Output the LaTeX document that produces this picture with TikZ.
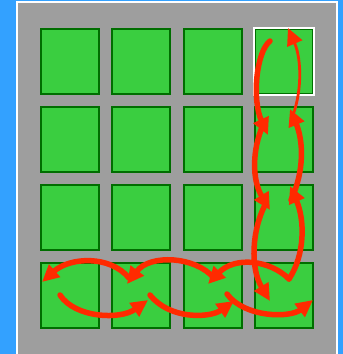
\documentclass[tikz,border=0pt]{standalone}
\usetikzlibrary{arrows.meta}
\definecolor{skyblue}{RGB}{51,161,255}
\definecolor{boardgray}{RGB}{158,158,158}
\definecolor{cellgreen}{RGB}{58,206,64}
\definecolor{celledge}{RGB}{0,110,0}
\definecolor{flowred}{RGB}{255,42,0}
\tikzset{
  cell/.style={draw=celledge, fill=cellgreen, line width=2pt, inner sep=0pt,
    minimum width=58pt, minimum height=65pt},
  flow/.style={draw=flowred, line width=5.5pt, line cap=round,
    -{Triangle[length=17pt,width=16pt]}},
  thinflow/.style={flow, line width=2.8pt}
}
\begin{document}
\begin{tikzpicture}[x=1pt,y=-1pt]
  \useasboundingbox (0,0) rectangle (343,354);
  \fill[skyblue] (0,0) rectangle (343,354);
  \draw[white, line width=2pt, fill=boardgray] (17,2) rectangle (337,360);
  \foreach \col/\x in {1/70,2/141,3/213,4/284}
    \foreach \row/\y in {1/61,2/139,3/217,4/295}
      \node[cell] (c\row\col) at (\x,\y) {};
  \draw[white, line width=2pt] (c14.north west) rectangle (c14.south east);
  % way points
  \coordinate (a0) at (270,41);  \coordinate (a1) at (268,135);
  \coordinate (a2) at (263,125); \coordinate (a3) at (270,210);
  \coordinate (a4) at (265,205); \coordinate (a5) at (270,301);
  \coordinate (b0) at (289,279); \coordinate (b1) at (290,186);
  \coordinate (b2) at (291,200); \coordinate (b3) at (290,109);
  \coordinate (b4) at (291,120); \coordinate (b5) at (288,28);
  \coordinate (l1) at (208,284); \coordinate (l2) at (214,278);
  \coordinate (l3) at (127,284); \coordinate (l4) at (129,278);
  \coordinate (l5) at (42,282);
  \coordinate (r0) at (60,295);  \coordinate (r1) at (148,300);
  \coordinate (r2) at (150,295); \coordinate (r3) at (234,301);
  \coordinate (r4) at (227,294); \coordinate (r5) at (313,300);
  % down the left side of the last column
  \draw[flow] (a0) .. controls (256,52) and (252,100) .. (a1);
  \draw[flow] (a2) .. controls (252,150) and (252,180) .. (a3);
  \draw[flow] (a4) .. controls (252,230) and (250,268) .. (a5);
  % up the right side
  \draw[flow] (b0) .. controls (305,255) and (305,220) .. (b1);
  \draw[flow] (b2) .. controls (305,170) and (303,140) .. (b3);
  \draw[thinflow] (b4) .. controls (302,95) and (302,60) .. (b5);
  % bottom row, leftwards
  \draw[flow] (b0) .. controls (270,260) and (235,256) .. (l1);
  \draw[flow] (l2) .. controls (195,256) and (150,254) .. (l3);
  \draw[flow] (l4) .. controls (110,255) and (70,257) .. (l5);
  % bottom row, rightwards
  \draw[flow] (r0) .. controls (75,318) and (120,320) .. (r1);
  \draw[flow] (r2) .. controls (170,320) and (210,318) .. (r3);
  \draw[flow] (r4) .. controls (245,318) and (290,318) .. (r5);
\end{tikzpicture}
\end{document}
